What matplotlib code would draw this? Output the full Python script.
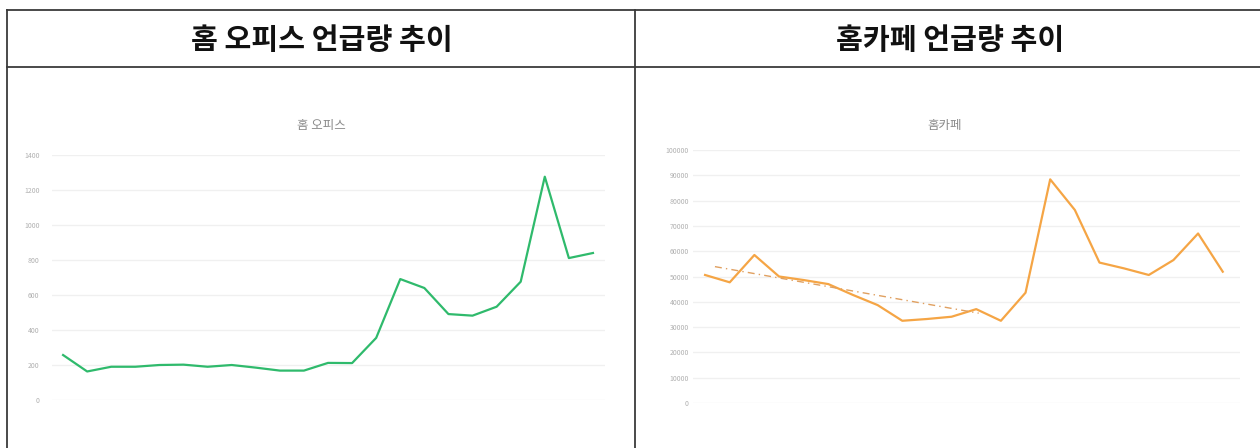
import numpy as np
import matplotlib.pyplot as plt
from matplotlib.lines import Line2D

plt.rcParams['font.family'] = ['Noto Sans CJK KR', 'DejaVu Sans']

# data
office_values = [257, 163, 190, 190, 200, 202, 190, 200, 185, 168, 168, 212,
                 211, 355, 691, 640, 491, 482, 533, 676, 1276, 811, 840]
cafe_values = [50600, 47700, 58500, 50000, 48600, 47000, 42700, 38700, 32500,
               33200, 34100, 37100, 32500, 43600, 88400, 76300, 55500, 53200,
               50600, 56500, 67000, 51900]
trend_x = [0.4, 11.1]
trend_y = [53900, 35500]

office_ticks = np.arange(0, 1401, 200)
cafe_ticks = np.arange(0, 100001, 10000)

header_left = "홈 오피스 언급량 추이"
header_right = "홈카페 언급량 추이"
title_left = "홈 오피스"
title_right = "홈카페"

W, H = 1260, 448
fig = plt.figure(figsize=(12.6, 4.48), dpi=100)


def fx(px):
    return px / W


def fy(py):
    return 1 - py / H


# table frame
line_kw = dict(color='#3a3a3a', linewidth=1.3, transform=fig.transFigure)
fig.add_artist(Line2D([fx(7), 1], [fy(10), fy(10)], **line_kw))
fig.add_artist(Line2D([fx(7), 1], [fy(67), fy(67)], **line_kw))
fig.add_artist(Line2D([fx(7), fx(7)], [fy(10), 0], **line_kw))
fig.add_artist(Line2D([fx(635), fx(635)], [fy(10), 0], **line_kw))

fig.text(fx(322), fy(40), header_left, ha='center', va='center',
         fontsize=21, fontweight='bold', color='#111111')
fig.text(fx(950), fy(40), header_right, ha='center', va='center',
         fontsize=21, fontweight='bold', color='#111111')


def style_axes(ax, ticks):
    ax.set_yticks(ticks)
    ax.set_xticks([])
    for s in ax.spines.values():
        s.set_visible(False)
    ax.grid(axis='y', color='#f0f0f0', linewidth=1)
    ax.set_axisbelow(True)
    ax.tick_params(axis='y', length=0, labelsize=5, labelcolor='#b0b0b0')


# left chart
ax1 = fig.add_axes([fx(52), fy(400), fx(605 - 52), (400 - 155) / H])
x1 = np.arange(len(office_values))
ax1.plot(x1, office_values, color='#2fba6c', linewidth=1.6)
ax1.set_ylim(0, 1400)
ax1.set_xlim(-0.46, 22.5)
style_axes(ax1, office_ticks)
ax1.tick_params(axis='y', pad=9)
fig.text(fx(321), fy(126), title_left, ha='center', va='center',
         fontsize=9, color='#8a8a8a')

# right chart
ax2 = fig.add_axes([fx(693), fy(403), fx(1240 - 693), (403 - 150) / H])
x2 = np.arange(len(cafe_values))
ax2.plot(x2, cafe_values, color='#f5a545', linewidth=1.6)
ax2.plot(trend_x, trend_y, color='#e0a060', linewidth=1.0,
         linestyle=(0, (5, 3, 1, 3)))
ax2.set_ylim(0, 100000)
ax2.set_xlim(-0.49, 21.7)
style_axes(ax2, cafe_ticks)
ax2.tick_params(axis='y', pad=3)
fig.text(fx(945), fy(126), title_right, ha='center', va='center',
         fontsize=9, color='#8a8a8a')

plt.savefig('out.png', dpi=100)
